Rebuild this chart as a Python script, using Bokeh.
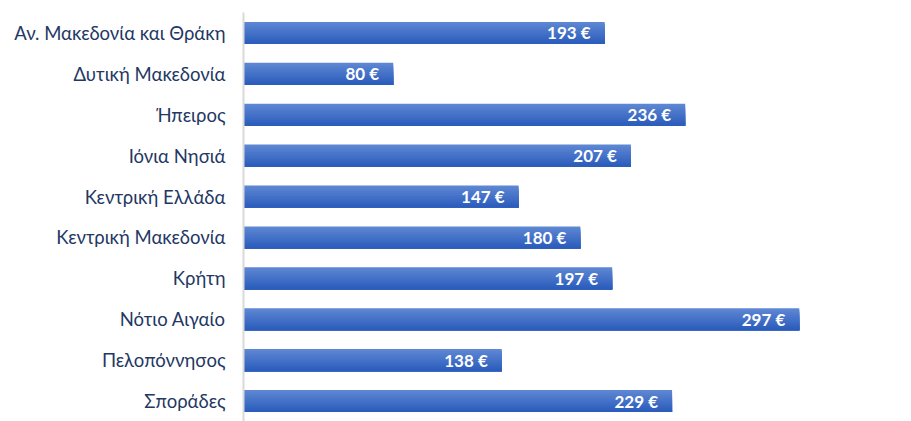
from bokeh.plotting import figure
from bokeh.models import ColumnDataSource, FactorRange, Range1d
from bokeh.transform import dodge
from bokeh.core.properties import value
from bokeh.embed import file_html
from bokeh.resources import INLINE

regions = ["Αν. Μακεδονία και Θράκη", "Δυτική Μακεδονία", "Ήπειρος", "Ιόνια Νησιά",
           "Κεντρική Ελλάδα", "Κεντρική Μακεδονία", "Κρήτη", "Νότιο Αιγαίο",
           "Πελοπόννησος", "Σποράδες"]
amounts = [193, 80, 236, 207, 147, 180, 197, 297, 138, 229]
labels = [f"{a} €" for a in amounts]

src = ColumnDataSource(dict(cat=regions, val=amounts, lab=labels))

p = figure(width=903, height=421, output_backend="svg", toolbar_location=None,
           y_range=FactorRange(factors=list(reversed(regions)), range_padding=0),
           x_range=Range1d(0, 350),
           min_border_left=243, min_border_right=5, min_border_top=12, min_border_bottom=0)
p.outline_line_color = None
p.xgrid.visible = False
p.ygrid.visible = False
p.xaxis.visible = False

# gradient bars: each strip spans from its top edge down to the bar bottom,
# drawn light-to-dark so later strips overlay earlier ones without seams
bar_h = 0.54
n = 12
top_c = (0x5d, 0x87, 0xd3)
bot_c = (0x2c, 0x5c, 0xbc)
sh = bar_h / n
for i in range(n):
    t = i / (n - 1)
    c = tuple(int(round(top_c[k] + (bot_c[k] - top_c[k]) * t)) for k in range(3))
    col = "#%02x%02x%02x" % c
    h = bar_h - i * sh
    off = -bar_h / 2 + h / 2
    p.hbar(y=dodge("cat", off, range=p.y_range), right="val", left=0,
           height=h, source=src, fill_color=col, line_color=None)

p.text(x="val", y="cat", text="lab", source=src, x_offset=-14,
       text_align="right", text_baseline="middle", text_color="white",
       text_font=value("Lato"), text_font_style="bold", text_font_size="17px")

ax = p.yaxis[0]
ax.axis_line_color = "#d9d9d9"
ax.axis_line_width = 2
ax.major_tick_line_color = None
ax.minor_tick_line_color = None
ax.major_label_standoff = 12
ax.major_label_text_font = "Lato"
ax.major_label_text_font_size = "18.5px"
ax.major_label_text_color = "#1f3864"

open("out.html", "w").write(file_html(p, INLINE))
